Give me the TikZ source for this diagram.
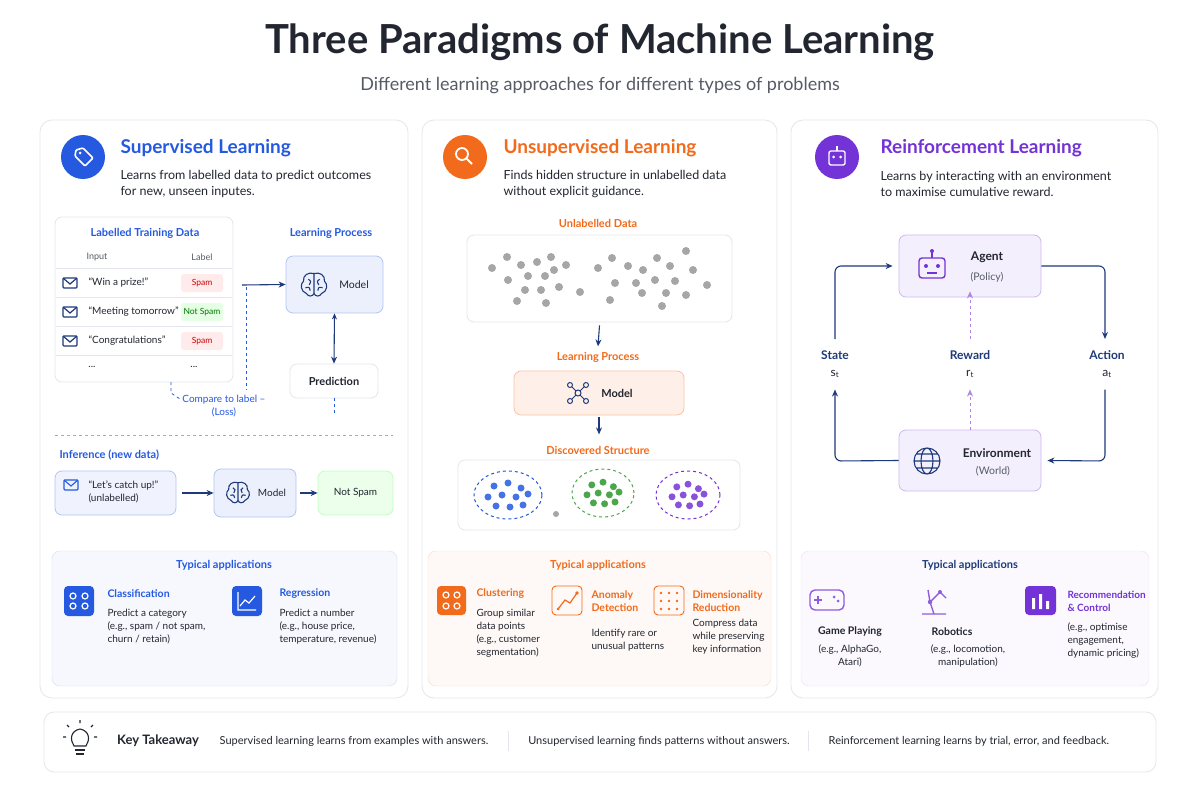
\documentclass[tikz,border=0pt]{standalone}
\usepackage{fontspec}
\setmainfont{Lato}
\usetikzlibrary{arrows.meta,calc}
\definecolor{cblue}{HTML}{2459E0}
\definecolor{corange}{HTML}{F26A1B}
\definecolor{cpurple}{HTML}{7433D6}
\definecolor{ctext}{HTML}{222630}
\definecolor{cgray}{HTML}{555B66}
\definecolor{cnavy}{HTML}{1E3A7A}
\definecolor{cborder}{HTML}{E3E6EC}
\newcommand{\fs}[1]{\fontsize{#1pt}{\dimexpr #1pt*13/10\relax}\selectfont}
\newcommand{\envico}[2]{\draw[cnavy,line width=1.2pt,rounded corners=1pt] (#1-7,#2-5) rectangle (#1+7,#2+5); \draw[cnavy,line width=1.2pt] (#1-7,#2-5)--(#1,#2+1)--(#1+7,#2-5);}
\newcommand{\brainico}[3]{\begin{scope}[shift={(#1,#2)},scale=#3,cnavy,line width=1.1pt]
\draw (0,-11) .. controls (-6,-13) and (-12,-9) .. (-11,-3) .. controls (-15,0) and (-14,8) .. (-8,10) .. controls (-6,14) and (-1,13) .. (0,10) -- cycle;
\draw (0,-11) .. controls (6,-13) and (12,-9) .. (11,-3) .. controls (15,0) and (14,8) .. (8,10) .. controls (6,14) and (1,13) .. (0,10);
\draw (-6,-5) .. controls (-3,-3) .. (-5,1) (-9,4) .. controls (-5,3) .. (-4,7) (6,-5) .. controls (3,-3) .. (5,1) (9,4) .. controls (5,3) .. (4,7);
\end{scope}}
\tikzset{
 panel/.style={draw=cborder,fill=white,rounded corners=12pt,line width=0.8pt},
 box/.style={draw=#1,rounded corners=7pt,line width=0.8pt},
 arr/.style={-{Stealth[length=7pt,width=6pt]},line width=1.1pt,cnavy},
 ttl/.style={font=\fs{19}\bfseries,anchor=west},
 desc/.style={font=\fs{12.5},anchor=west,text=ctext,align=left},
 sub/.style={font=\fs{11}\bfseries},
 sm/.style={font=\fs{10},text=ctext},
 apt/.style={font=\fs{10.5}\bfseries,anchor=west,align=left},
 apd/.style={font=\fs{10},text=ctext,anchor=north west,align=left},
 badge/.style={rounded corners=3pt,minimum width=42pt,minimum height=18pt,inner sep=1pt,font=\fs{8.5}},
 dot/.style={circle,fill=#1,inner sep=0pt,minimum size=8pt},
}
\begin{document}
\begin{tikzpicture}[x=1pt,y=-1pt]
\useasboundingbox[fill=white] (0,0) rectangle (1200,800);
\node[font=\fs{40}\bfseries,text=ctext] (title) at (600,42) {Three Paradigms of Machine Learning};
\node[font=\fs{18},text=cgray] (subtitle) at (600,86) {Different learning approaches for different types of problems};
% panels
\draw[panel] (40,120) rectangle (408,698);
\draw[panel] (422,120) rectangle (777,698);
\draw[panel] (791,120) rectangle (1158,698);
% ========== LEFT ==========
\node[circle,fill=cblue,minimum size=44pt] (i1) at (83,157) {};
\draw[white,line width=1.6pt,rounded corners=1pt] (76,150)--(83,148)--(93,158)--(85,166)--(75,156)--cycle; \fill[white] (80,153) circle (1.5pt);
\node[ttl,text=cblue] (t1) at (117,148) {Supervised Learning};
\node[desc] (d1) at (117,184) {Learns from labelled data to predict outcomes\\for new, unseen inputes.};
\node[box=cborder,minimum width=178pt,minimum height=165pt] (tbl) at (144,299.5) {};
\node[sub,text=cblue] (ltd) at (145,233) {Labelled Training Data};
\node[font=\fs{9},text=cgray] (hin) at (97,257) {Input};
\node[font=\fs{9},text=cgray] (hlb) at (202,257) {Label};
\draw[cborder] (56,268)--(232,268) (56,297)--(232,297) (56,326)--(232,326) (56,355)--(232,355);
\envico{70}{283}\envico{70}{312}\envico{70}{341}
\node[sm,anchor=west] (r1) at (85,283) {``Win a prize!''};
\node[sm,anchor=west] (r2) at (85,312) {``Meeting tomorrow''};
\node[sm,anchor=west] (r3) at (85,341) {``Congratulations''};
\node[sm] (r4) at (92,367) {...};
\node[sm] (r4b) at (194,367) {...};
\node[badge,fill=red!8,text=red!80!black] (b1) at (202,283) {Spam};
\node[badge,fill=green!10,text=green!45!black] (b2) at (202,312) {Not Spam};
\node[badge,fill=red!8,text=red!80!black] (b3) at (202,341) {Spam};
\node[sub,text=cblue] (lp) at (331,233) {Learning Process};
\node[box=cblue!35,fill=cblue!9,minimum width=97pt,minimum height=57pt] (m1) at (334.5,284.5) {};
\brainico{314}{284}{0.95}
\node[font=\fs{10.5},text=ctext] (m1t) at (354,285) {Model};
\node[box=cborder,fill=white,minimum width=88pt,minimum height=34pt,font=\fs{11}\bfseries,text=ctext] (pred) at (334,381) {Prediction};
\coordinate (a0) at (242,285);
\draw[arr] (a0) -- (m1.west);
\draw[arr,{Stealth[length=6pt,width=5pt]}-{Stealth[length=7pt,width=6pt]}] (m1.south) -- (pred.north);
\coordinate (lossL) at (171,382);
\coordinate (lossR) at (246,287);
\node[font=\fs{10},text=cblue,align=center] (loss) at (224,406) {Compare to label --\\(Loss)};
\draw[cblue,dashed,line width=0.8pt] (lossL) -- (171,393) -- (180,399);
\draw[cblue,dashed,line width=0.8pt] (lossR) -- (246,390);
\draw[cblue,dashed,line width=0.8pt] (pred.south) -- (334,413);
\draw[cblue!50,dashed] (55,435) -- (393,435);
\node[sub,text=cblue,anchor=west] (infl) at (56,455) {Inference (new data)};
\node[box=cblue!35,fill=cblue!7,minimum width=121pt,minimum height=44pt] (inf) at (115.5,493) {};
\draw[cblue,line width=1.1pt,rounded corners=1pt] (64,480) rectangle (78,490); \draw[cblue,line width=1.1pt] (64,480)--(71,486)--(78,480);
\node[sm,anchor=west,align=left] (inft) at (85,492) {``Let's catch up!''\\(unlabelled)};
\node[box=cblue!35,fill=cblue!9,minimum width=82pt,minimum height=48pt] (m2) at (255,493) {};
\brainico{238}{492}{0.85}
\node[sm] (m2t) at (272,493) {Model};
\node[box=green!25,fill=green!8,minimum width=75pt,minimum height=44pt,font=\fs{10},text=ctext] (ns) at (355.5,493) {Not Spam};
\draw[arr] (inf.east)++(6,0) -- (m2.west);
\draw[arr] (m2.east)++(4,0) -- (ns.west);
\draw[rounded corners=8pt,draw=cblue!20,fill=cblue!4] (52,551) rectangle (397,686);
\node[sub,text=cblue] (ta1) at (224,565) {Typical applications};
\fill[cblue,rounded corners=4pt] (64,586) rectangle (94,616);
\foreach \p in {(73,596),(85,596),(73,606),(85,606)} \draw[white,line width=1.2pt] \p circle (3pt);
\fill[cblue,rounded corners=4pt] (232,586) rectangle (262,616);
\draw[white,line width=1.2pt] (238,592)--(238,610)--(256,610) (240,606)--(245,600)--(249,603)--(255,596);
\node[apt,text=cblue] (cl) at (104,594) {Classification};
\node[apd] (cld) at (104,606) {Predict a category\\(e.g., spam / not spam,\\churn / retain)};
\node[apt,text=cblue] (rg) at (276,594) {Regression};
\node[apd] (rgd) at (276,606) {Predict a number\\(e.g., house price,\\temperature, revenue)};
% ========== MIDDLE ==========
\node[circle,fill=corange,minimum size=44pt] (i2) at (465,157) {};
\draw[white,line width=1.8pt] (462,154) circle (6pt) (466.5,158.5)--(472,164);
\node[ttl,text=corange] (t2) at (500,148) {Unsupervised Learning};
\node[desc] (d2) at (500,184) {Finds hidden structure in unlabelled data\\without explicit guidance.};
\node[sub,text=corange] (udl) at (598,223) {Unlabelled Data};
\node[box=cborder,fill=white,minimum width=265pt,minimum height=87pt] (ud) at (599.5,278.5) {};
\foreach \p in {(492,268),(507,257),(521,265),(537,262),(551,257),(566,265),(508,280),(528,276),(545,276),(554,270),(525,290),(541,290),(559,287),(517,301),(546,303),(598,268),(612,258),(628,266),(643,270),(657,258),(670,266),(686,251),(693,270),(615,283),(636,283),(655,280),(675,281),(707,285),(642,293),(666,293),(686,295),(662,306),(610,300),(580,292)}
  \node[dot=gray!70] at \p {};
\node[sub,text=corange] (lp2) at (598,357) {Learning Process};
\node[box=corange!40,fill=corange!10,minimum width=170pt,minimum height=44pt] (um) at (599,393) {};
\begin{scope}[cnavy,line width=1pt]
\draw (578,393) circle (3pt) (570,385) circle (2.5pt) (586,385) circle (2.5pt) (570,401) circle (2.5pt) (586,401) circle (2.5pt);
\draw (576,391)--(572,387) (580,391)--(584,387) (576,395)--(572,399) (580,395)--(584,399);
\end{scope}
\node[font=\fs{11}\bfseries,text=ctext] (umt) at (617,393) {Model};
\draw[arr] (ud.south)++(0,3) -- ($(lp2.north)+(0,-2)$);
\draw[arr] (um.south)++(0,2) -- ($(um.south)+(0,19)$);
\node[sub,text=corange] (dsl) at (598,450) {Discovered Structure};
\node[box=cborder,fill=white,minimum width=282pt,minimum height=70pt] (ds) at (599,495) {};
\draw[cblue,dashed,line width=1pt] (508,495) ellipse (34pt and 24pt);
\draw[green!50!black!70,dashed,line width=1pt] (603,493) ellipse (31pt and 24pt);
\draw[cpurple,dashed,line width=1pt] (688,495) ellipse (32pt and 24pt);
\foreach \dx/\dy in {-14/-9,0/-12,13/-7,-20/2,-6/0,8/2,20/-1,-12/11,2/12,15/10}{
  \node[dot=cblue!85,minimum size=7pt] at (508+\dx,495+\dy) {};
  \node[dot=green!50!black!70,minimum size=7pt] at (603+\dx*0.8,493+\dy*0.9) {};
  \node[dot=cpurple!85,minimum size=7pt] at (688+\dx*0.8,495+\dy*0.9) {};}
\node[dot=gray!70,minimum size=6pt] at (556,514) {};
\draw[rounded corners=8pt,draw=corange!25,fill=corange!4] (428,551) rectangle (771,686);
\node[sub,text=corange] (ta2) at (598,565) {Typical applications};
\fill[corange,rounded corners=4pt] (437,586) rectangle (466,615);
\foreach \p in {(446,595),(457,595),(446,606),(457,606)} \draw[white,line width=1.2pt] \p circle (3pt);
\draw[corange,rounded corners=4pt,line width=0.9pt] (552,586) rectangle (582,615);
\draw[corange,line width=1.2pt] (558,609)--(565,600)--(570,603)--(577,593); \fill[corange] (577,593) circle (1.8pt) (558,609) circle(1.5pt);
\draw[corange,rounded corners=4pt,line width=0.9pt] (654,586) rectangle (684,615);
\foreach \a in {661,669,677} \foreach \b in {593,601,609} \fill[corange] (\a,\b) circle (1.3pt);
\node[apt,text=corange] (cu) at (473,594) {Clustering};
\node[apd] (cud) at (473,606) {Group similar\\data points\\(e.g., customer\\segmentation)};
\node[apt,text=corange] (an) at (588,601) {Anomaly\\Detection};
\node[apd] (and) at (588,626) {Identify rare or\\unusual patterns};
\node[apt,text=corange] (dr) at (689,601) {Dimensionality\\Reduction};
\node[apd] (drd) at (689,616) {Compress data\\while preserving\\key information};
% ========== RIGHT ==========
\node[circle,fill=cpurple,minimum size=44pt] (i3) at (837,157) {};
\draw[white,line width=1.4pt,rounded corners=2pt] (829,151) rectangle (845,165); \draw[white,line width=1.4pt] (837,151)--(837,146); \fill[white] (833.5,157) circle (1.5pt) (840.5,157) circle (1.5pt);
\node[ttl,text=cpurple] (t3) at (877,148) {Reinforcement Learning};
\node[desc] (d3) at (877,184) {Learns by interacting with an environment\\to maximise cumulative reward.};
\node[box=cpurple!35,fill=cpurple!8,minimum width=142pt,minimum height=62pt] (agent) at (970,266) {};
\begin{scope}[cpurple,line width=1.4pt]
\draw[rounded corners=3pt] (919,258) rectangle (945,278); \draw (932,258)--(932,252); \fill (932,251) circle (2pt);
\fill (926,266) circle (2pt) (938,266) circle (2pt); \draw (927,273)--(937,273);
\end{scope}
\node[font=\fs{12}\bfseries,text=ctext] (agt) at (987,257) {Agent};
\node[font=\fs{10.5},text=cgray] (agp) at (987,277) {(Policy)};
\node[box=cpurple!35,fill=cpurple!8,minimum width=142pt,minimum height=61pt] (env) at (970,460.5) {};
\begin{scope}[cnavy,line width=1.1pt]
\draw (927,461) circle (13pt) (927,461) ellipse (6pt and 13pt) (914,461)--(940,461) (916,454)--(938,454) (916,468)--(938,468);
\end{scope}
\node[font=\fs{12}\bfseries,text=ctext] (ent) at (997,453) {Environment};
\node[font=\fs{10.5},text=cgray] (enw) at (993,471) {(World)};
\node[font=\fs{12}\bfseries,text=cnavy] (act) at (1107,355) {Action};
\node[font=\fs{12},text=ctext] (at) at (1107,374) {a\textsubscript{t}};
\node[font=\fs{12}\bfseries,text=cnavy] (st) at (835,355) {State};
\node[font=\fs{12},text=ctext] (stt) at (835,374) {s\textsubscript{t}};
\node[font=\fs{12}\bfseries,text=cnavy] (rw) at (970,355) {Reward};
\node[font=\fs{12},text=ctext] (rt) at (970,374) {r\textsubscript{t}};
\draw[arr,rounded corners=6pt] (agent.east) -- (1105,266) -- ($(act.north)+(-2,-8)$);
\draw[arr,rounded corners=6pt] ($(at.south)+(-2,8)$) -- (1105,461) -- ($(env.east)+(6,0)$);
\draw[arr,rounded corners=6pt] (env.west) -- (835,461) -- ($(stt.south)+(0,8)$);
\draw[arr,rounded corners=6pt] ($(st.north)+(0,-8)$) -- (835,266) -- ($(agent.west)+(-6,0)$);
\draw[-{Stealth[length=7pt,width=6pt]},cpurple!60,dashed,line width=1pt] (env.north) -- ($(rt.south)+(0,8)$);
\draw[-{Stealth[length=7pt,width=6pt]},cpurple!60,dashed,line width=1pt] ($(rw.north)+(0,-8)$) -- ($(agent.south)+(0,-6)$);
\draw[rounded corners=8pt,draw=cpurple!15,fill=cpurple!3] (801,551) rectangle (1149,686);
\node[sub,text=cnavy] (ta3) at (970,565) {Typical applications};
\begin{scope}[cpurple!80,line width=1.4pt]
\draw[rounded corners=5pt] (810,590) rectangle (844,610);
\draw (818,596)--(818,604) (814,600)--(822,600); \fill (834,597) circle (1.5pt) (838,601) circle (1.5pt);
\draw (922,614)--(946,614) (934,614)--(930,602)--(940,592)--(946,598) (928,590)--(930,602);
\fill (930,602) circle (2.2pt) (940,592) circle (2pt);
\fill[cpurple,rounded corners=4pt] (1025,586) rectangle (1056,615);
\end{scope}
\fill[white] (1032,598) rectangle (1035,609) (1039,594) rectangle (1042,609) (1046,601) rectangle (1049,609);
\node[font=\fs{10.5}\bfseries,text=ctext] (gp) at (850,632) {Game Playing};
\node[font=\fs{10},text=ctext,align=center] (gpd) at (850,656) {(e.g., AlphaGo,\\Atari)};
\node[font=\fs{10.5}\bfseries,text=ctext] (rb) at (952,632) {Robotics};
\node[font=\fs{10},text=ctext,align=center] (rbd) at (968,656) {(e.g., locomotion,\\manipulation)};
\node[apt,font=\fs{10}\bfseries,text=cpurple] (rc) at (1064,601) {Recommendation\\\& Control};
\node[apd] (rcd) at (1064,619) {(e.g., optimise\\engagement,\\dynamic pricing)};
% ========== BOTTOM ==========
\draw[panel,rounded corners=10pt] (44,712) rectangle (1156,772);
\begin{scope}[ctext,line width=1.1pt]
\draw (74,746) .. controls (70,740) and (70,731) .. (80,729) .. controls (90,731) and (90,740) .. (86,746) -- cycle;
\draw (75,750)--(85,750) (76,754)--(84,754);
\draw (80,723)--(80,720) (69,727)--(67,725) (91,727)--(93,725) (66,737)--(63,737) (94,737)--(97,737);
\end{scope}
\node[font=\fs{13}\bfseries,text=ctext] (kt) at (158,741) {Key Takeaway};
\node[font=\fs{11},text=ctext] (k1) at (354,741) {Supervised learning learns from examples with answers.};
\draw[cborder,line width=1pt] (508,731)--(508,751) (808,731)--(808,751);
\node[font=\fs{11},text=ctext] (k2) at (659,741) {Unsupervised learning finds patterns without answers.};
\node[font=\fs{11},text=ctext] (k3) at (969,741) {Reinforcement learning learns by trial, error, and feedback.};
\end{tikzpicture}
\end{document}
